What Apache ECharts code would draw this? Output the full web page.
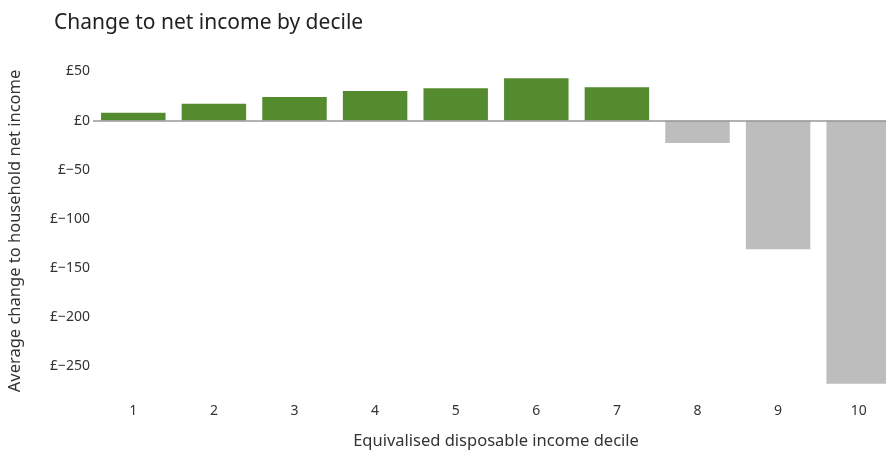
<!DOCTYPE html>
<html>
<head>
<meta charset="utf-8">
<script src="https://cdn.jsdelivr.net/npm/echarts@6/dist/echarts.min.js"></script>
<style>
  html, body { margin: 0; padding: 0; background: #fff; }
  #chart { width: 886px; height: 455px; }
</style>
</head>
<body>
<div id="chart"></div>
<script>
const deciles = ['1', '2', '3', '4', '5', '6', '7', '8', '9', '10']
const netIncomeChange = [8, 17, 24, 30, 33, 43, 34, -23, -131, -268]
const yTicks = [50, 0, -50, -100, -150, -200, -250]

const GREEN = '#558b2f'
const GREY = '#bdbdbd'
const FONT = '"Noto Sans", sans-serif'

const fmtPounds = (v) => (v < 0 ? '£\u2212' + Math.abs(v) : '£' + v)

const chart = echarts.init(document.getElementById('chart'), null, { renderer: 'canvas' })

chart.setOption({
    animation: false,
    textStyle: { fontFamily: FONT },
    title: {
        text: 'Change to net income by decile',
        left: 49,
        top: 8,
        textStyle: { fontSize: 21, fontWeight: 'normal', color: '#222', fontFamily: FONT },
    },
    grid: {
        left: 93,
        top: 63,
        width: 806,
        height: 336,
        containLabel: false,
        outerBoundsMode: 'none',
    },
    xAxis: {
        type: 'category',
        data: deciles,
        name: 'Equivalised disposable income decile',
        nameLocation: 'middle',
        nameGap: 34,
        nameTextStyle: { fontSize: 16.5, color: '#333' },
        axisLine: { show: false, onZero: false },
        axisTick: { show: false },
        axisLabel: { fontSize: 14, color: '#333', margin: 5 },
        splitLine: { show: false },
    },
    yAxis: {
        type: 'value',
        min: -283.6,
        max: 58.6,
        name: 'Average change to household net income',
        nameLocation: 'middle',
        nameGap: 69,
        nameTextStyle: { fontSize: 16.5, color: '#333' },
        axisLine: { show: false },
        axisTick: { show: false },
        splitLine: { show: false },
        axisLabel: {
            customValues: yTicks,
            fontSize: 14,
            color: '#333',
            margin: 3,
            formatter: fmtPounds,
        },
    },
    series: [
        {
            type: 'bar',
            data: netIncomeChange,
            barCategoryGap: '20%',
            itemStyle: {
                color: (p) => (p.value >= 0 ? GREEN : GREY),
            },
            markLine: {
                silent: true,
                symbol: 'none',
                label: { show: false },
                lineStyle: { color: '#999', width: 1.5, type: 'solid' },
                data: [{ yAxis: 0 }],
            },
        },
    ],
})
</script>
</body>
</html>
